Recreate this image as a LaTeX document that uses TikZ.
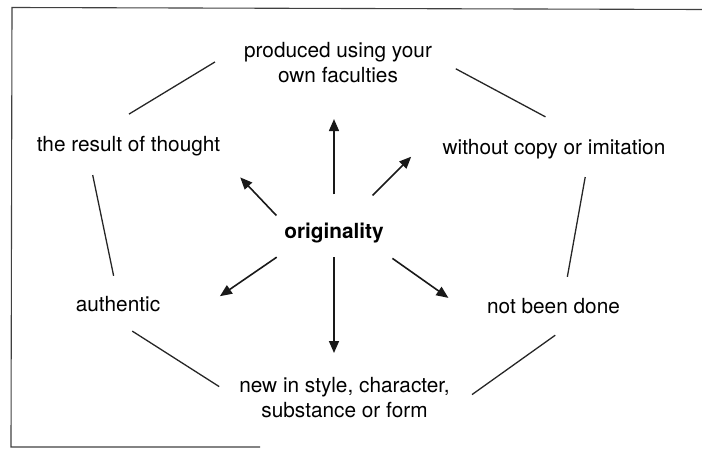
\documentclass[tikz,border=0pt]{standalone}
\usepackage{fontspec}
\setmainfont{TeX Gyre Heros}
\usetikzlibrary{arrows.meta}
\begin{document}
\begin{tikzpicture}[x=1pt,y=-1pt,
  lbl/.style={inner sep=0pt, outer sep=0pt, font=\fontsize{20.8}{25.5}\selectfont, align=center},
  ring/.style={line width=1.3pt, black!85},
  ray/.style={line width=1.6pt, black!90, -{Triangle[length=12pt,width=10pt]}},
  frame/.style={line width=1.1pt, black!75}]
\useasboundingbox (0,0) rectangle (702,449);
\draw[frame] (702,9.5) -- (12,7.5) -- (11,447) -- (260,447);

\node[lbl, anchor=north] (prod) at (338,42.1) {produced using your\\own faculties};
\node[lbl, anchor=base] (result) at (128.5,152) {the result of thought};
\node[lbl, anchor=base] (without) at (554,155) {without copy or imitation};
\node[lbl, anchor=base, font=\fontsize{20.8}{25.5}\selectfont\bfseries] (orig) at (334,239) {originality};
\node[lbl, anchor=base] (auth) at (118,312) {authentic};
\node[lbl, anchor=base] (notdone) at (553.5,314) {not been done};
\node[lbl, anchor=north] (new) at (344.5,377.1) {new in style, character,\\substance or form};

\draw[ring, shorten <=34pt, shorten >=43.7pt] (prod.169) -- (result.165);
\draw[ring, shorten <=27pt, shorten >=48.6pt] (prod.4) -- (without.16);
\draw[ring, shorten <=18.9pt, shorten >=21.5pt] (result.194) -- (auth.north);
\draw[ring, shorten <=17.8pt, shorten >=22.4pt] (without.344) -- (notdone.38);
\draw[ring, shorten <=34.9pt, shorten >=23.9pt] (auth.207) -- (new.181);
\draw[ring, shorten <=36pt, shorten >=27.4pt] (notdone.346) -- (new.353);

\draw[ray, shorten <=29.1pt, shorten >=36pt] (orig.north) -- (orig.north |- prod.south);
\draw[ray, shorten <=11.5pt, shorten >=29.1pt] (orig.169) -- (result.354);
\draw[ray, shorten <=39.7pt, shorten >=44.5pt] (orig.44) -- ([yshift=14.6pt]without.north west);
\draw[ray, shorten <=24.1pt, shorten >=72.5pt] (orig.195) -- ([yshift=-24.9pt]auth.south east);
\draw[ray, shorten <=13.6pt, shorten >=24.1pt] (orig.south) -- (orig.south |- new.north);
\draw[ray, shorten <=25.7pt, shorten >=47.4pt] (orig.345) -- ([yshift=-10.9pt]notdone.south west);
\end{tikzpicture}
\end{document}
